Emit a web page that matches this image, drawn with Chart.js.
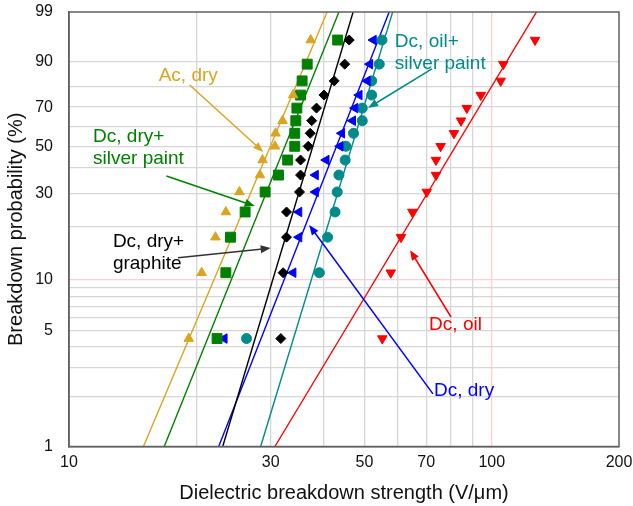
<!DOCTYPE html>
<html>
<head>
<meta charset="utf-8">
<script src="https://cdn.jsdelivr.net/npm/chart.js@4.4.1/dist/chart.umd.min.js"></script>
<style>
    html, body { margin: 0; padding: 0; background: #fff; }
    #wrap { width: 633px; height: 506px; }
</style>
</head>
<body>
<div id="wrap"><canvas id="weibullChart" width="633" height="506"></canvas></div>
<script>
var FONT = "'Liberation Sans', Arial, sans-serif";

// probability rows (%)
var probRows = [4.5, 11, 17.5, 24, 30.5, 37, 43.5, 50, 56.5, 63, 69.5, 76, 82.5, 89, 95.5];
var acDryProb = [4.5, 11, 17.5, 24, 30.5, 37, 43.5, 50, 56.5, 63, 76, 95.5];

// breakdown strength (V/um) for each point
var acDry = [19.2, 20.6, 22.2, 23.5, 25.3, 28.3, 28.7, 30.7, 30.8, 32.0, 33.9, 37.3];
var dcDrySilver = [22.4, 23.5, 24.1, 26.1, 29.1, 31.3, 32.9, 34.2, 34.2, 34.4, 34.6, 35.3, 35.6, 36.6, 43.2];
var dcDryGraphite = [31.7, 32.1, 32.7, 32.7, 35.1, 35.3, 35.3, 36.8, 37.2, 37.5, 38.5, 40.1, 42.4, 44.9, 46.0];
var dcDry = [23.3, 33.9, 35.0, 35.0, 38.3, 38.3, 40.6, 43.8, 44.2, 46.9, 47.5, 48.6, 50.8, 51.5, 52.5];
var dcOilSilver = [26.3, 39.1, 40.9, 42.6, 43.1, 43.5, 45.0, 45.2, 47.1, 49.4, 49.4, 52.0, 52.0, 54.2, 55.0];
var dcOil = [55.1, 57.7, 61.0, 64.9, 70.2, 73.8, 73.8, 75.7, 81.4, 84.6, 87.3, 94.2, 105.0, 106.5, 126.6];

// fitted lines: strength at 1 % and at 99 %
var fitProb = [1, 99];
var acDryFit = [15.0, 40.8];
var dcDrySilverFit = [16.8, 43.5];
var dcDryGraphiteFit = [23.1, 47.0];
var dcDryFit = [22.6, 57.2];
var dcOilSilverFit = [28.4, 58.3];
var dcOilFit = [30.7, 127.6];

var xTicks = [10, 20, 30, 40, 50, 60, 70, 80, 90, 100, 200];
var xLabels = [10, 30, 50, 70, 100, 200];
var yTicks = [1, 2, 3, 4, 5, 6, 7, 8, 9, 10, 20, 30, 40, 50, 60, 70, 80, 90, 99];
var yLabels = [1, 5, 10, 30, 50, 70, 90, 99];

// labels and arrows: [strength, probability]
var notes = [
    { text: ['Ac, dry'], color: '#DAA520', at: [16.3, 84.6], from: [19.3, 80.7], to: [28.8, 47.3] },
    { text: ['Dc, dry+', 'silver paint'], color: '#008000', at: [11.4, 54.6], from: [17.0, 36.6], to: [27.5, 25.8] },
    { text: ['Dc, dry+', 'graphite'], color: '#000000', at: [12.7, 16.5], from: [18.1, 13.4], to: [30.0, 15.2] },
    { text: ['Dc, oil+', 'silver paint'], color: '#008B8B', at: [59.0, 95.1], from: [72.2, 87.3], to: [51.0, 69.6] },
    { text: ['Dc, oil'], color: '#FF0000', at: [71.1, 5.43], from: [80.1, 6.05], to: [64.1, 14.8] },
    { text: ['Dc, dry'], color: '#0000FF', at: [73.0, 2.18], from: [72.6, 2.09], to: [37.0, 20.4] }
];

function weibull(p) {
    return Math.log(-Math.log(1 - p / 100));
}

class WeibullScale extends Chart.Scale {
    determineDataLimits() {
        this.min = this.options.min;
        this.max = this.options.max;
    }
    buildTicks() {
        return yTicks.map(function(v) { return { value: v }; });
    }
    getLabelForValue(v) {
        return String(v);
    }
    configure() {
        super.configure();
        this._startW = weibull(this.min);
        this._rangeW = weibull(this.max) - this._startW;
    }
    getPixelForValue(v) {
        return this.getPixelForDecimal((weibull(v) - this._startW) / this._rangeW);
    }
    getValueForPixel(px) {
        var w = this._startW + this.getDecimalForPixel(px) * this._rangeW;
        return 100 * (1 - Math.exp(-Math.exp(w)));
    }
}
WeibullScale.id = 'weibull';
WeibullScale.defaults = {};
Chart.register(WeibullScale);

function pts(xs, ps) {
    return xs.map(function(x, i) { return { x: x, y: ps[i] }; });
}

function markers(label, xs, ps, color, style, radius, rotation) {
    return {
        label: label,
        data: pts(xs, ps),
        showLine: false,
        pointStyle: style,
        pointRadius: radius,
        pointRotation: rotation || 0,
        pointBackgroundColor: color,
        pointBorderColor: color,
        pointBorderWidth: 1,
        order: 1
    };
}

function fit(label, xs, color) {
    return {
        label: label,
        data: pts(xs, fitProb),
        showLine: true,
        borderColor: color,
        borderWidth: 1.4,
        pointRadius: 0,
        fill: false,
        order: 2
    };
}

function drawArrow(ctx, x1, y1, x2, y2, color) {
    var ang = Math.atan2(y2 - y1, x2 - x1);
    var head = 10, half = 4;
    ctx.strokeStyle = color;
    ctx.fillStyle = color;
    ctx.lineWidth = 1.5;
    ctx.beginPath();
    ctx.moveTo(x1, y1);
    ctx.lineTo(x2 - Math.cos(ang) * head * 0.8, y2 - Math.sin(ang) * head * 0.8);
    ctx.stroke();
    ctx.beginPath();
    ctx.moveTo(x2, y2);
    ctx.lineTo(x2 - Math.cos(ang) * head - Math.sin(ang) * half, y2 - Math.sin(ang) * head + Math.cos(ang) * half);
    ctx.lineTo(x2 - Math.cos(ang) * head + Math.sin(ang) * half, y2 - Math.sin(ang) * head - Math.cos(ang) * half);
    ctx.closePath();
    ctx.fill();
}

var notesPlugin = {
    id: 'notes',
    afterDatasetsDraw: function(chart) {
        var ctx = chart.ctx, xs = chart.scales.x, ys = chart.scales.y;
        var a = chart.chartArea;
        ctx.save();
        ctx.strokeStyle = '#606060';
        ctx.lineWidth = 1.5;
        ctx.strokeRect(a.left, a.top, a.right - a.left, a.bottom - a.top);

        ctx.font = '19px ' + FONT;
        ctx.textBaseline = 'middle';
        ctx.textAlign = 'left';
        notes.forEach(function(n) {
            var tx = xs.getPixelForValue(n.at[0]);
            var ty = ys.getPixelForValue(n.at[1]);
            ctx.fillStyle = n.color;
            n.text.forEach(function(line, i) {
                ctx.fillText(line, tx, ty + i * 21.5);
            });
            drawArrow(ctx,
                xs.getPixelForValue(n.from[0]), ys.getPixelForValue(n.from[1]),
                xs.getPixelForValue(n.to[0]), ys.getPixelForValue(n.to[1]),
                n.color === '#000000' ? '#333333' : n.color);
        });
        ctx.restore();
    }
};

var ctx = document.getElementById('weibullChart');

var chart = new Chart(ctx, {
    type: 'scatter',
    data: {
        datasets: [
            markers('Ac, dry', acDry, acDryProb, '#DAA520', 'triangle', 5.5),
            markers('Dc, dry+ silver paint', dcDrySilver, probRows, '#008000', 'rect', 7),
            markers('Dc, dry+ graphite', dcDryGraphite, probRows, '#000000', 'rectRot', 5),
            markers('Dc, dry', dcDry, probRows, '#0000FF', 'triangle', 5.5, -90),
            markers('Dc, oil+ silver paint', dcOilSilver, probRows, '#008B8B', 'circle', 5),
            markers('Dc, oil', dcOil, probRows, '#FF0000', 'triangle', 5.5, 180),
            fit('Ac, dry fit', acDryFit, '#DAA520'),
            fit('Dc, dry+ silver paint fit', dcDrySilverFit, '#008000'),
            fit('Dc, dry+ graphite fit', dcDryGraphiteFit, '#000000'),
            fit('Dc, dry fit', dcDryFit, '#0000FF'),
            fit('Dc, oil+ silver paint fit', dcOilSilverFit, '#008B8B'),
            fit('Dc, oil fit', dcOilFit, '#FF0000')
        ]
    },
    options: {
        responsive: false,
        animation: false,
        devicePixelRatio: 1,
        layout: { padding: { top: 12, right: 14, left: 0, bottom: 0 } },
        plugins: {
            legend: { display: false },
            tooltip: { enabled: false }
        },
        scales: {
            x: {
                type: 'logarithmic',
                min: 10,
                max: 200,
                afterBuildTicks: function(s) {
                    s.ticks = xTicks.map(function(v) { return { value: v }; });
                },
                afterFit: function(s) {
                    s.height = 59.5;
                    s.paddingLeft = 0;
                    s.paddingRight = 0;
                },
                grid: {
                    drawTicks: false,
                    lineWidth: 1.3,
                    color: function(c) {
                        var v = c.tick && c.tick.value;
                        if (v === 10 || v === 200) return 'rgba(0,0,0,0)';
                        return v === 100 ? '#ffd0d0' : '#d6d6d6';
                    }
                },
                border: { color: '#606060', width: 1.5 },
                ticks: {
                    autoSkip: false,
                    maxRotation: 0,
                    padding: 6,
                    color: '#111',
                    font: { family: FONT, size: 16 },
                    callback: function(v) { return xLabels.indexOf(v) >= 0 ? String(v) : ''; }
                },
                title: {
                    display: true,
                    text: 'Dielectric breakdown strength (V/μm)',
                    color: '#111',
                    font: { family: FONT, size: 20 },
                    padding: { top: 0, bottom: 1 }
                }
            },
            y: {
                type: 'weibull',
                min: 1,
                max: 99,
                afterFit: function(s) {
                    s.width = 69;
                    s.paddingTop = 0;
                    s.paddingBottom = 0;
                },
                grid: {
                    drawTicks: false,
                    lineWidth: 1.3,
                    color: function(c) {
                        var v = c.tick && c.tick.value;
                        if (v === 1 || v === 99) return 'rgba(0,0,0,0)';
                        return v === 10 ? '#ffd0d0' : '#d6d6d6';
                    }
                },
                border: { color: '#606060', width: 1.5 },
                ticks: {
                    autoSkip: false,
                    padding: 16,
                    color: '#111',
                    font: { family: FONT, size: 16 },
                    callback: function(v) { return yLabels.indexOf(v) >= 0 ? String(v) : ''; }
                },
                title: {
                    display: true,
                    text: 'Breakdown probability (%)',
                    color: '#111',
                    font: { family: FONT, size: 20 },
                    padding: { top: 4, bottom: 0 }
                }
            }
        }
    },
    plugins: [notesPlugin]
});
</script>
</body>
</html>
